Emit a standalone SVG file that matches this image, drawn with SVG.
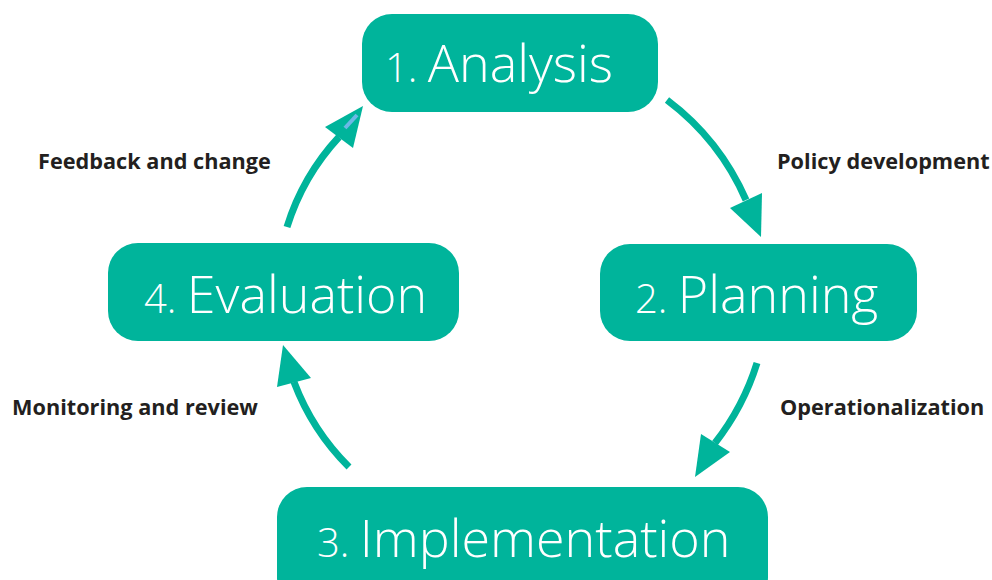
<svg xmlns="http://www.w3.org/2000/svg" width="992" height="580" viewBox="0 0 992 580">
<style>
.box{fill:#00b49b}
.num{font-family:"Open Sans","Noto Sans",sans-serif;font-weight:300;font-size:40px;fill:#fff}
.big{font-family:"Open Sans","Noto Sans",sans-serif;font-weight:300;font-size:52px;fill:#fff}
.lbl{font-family:"Open Sans","Noto Sans",sans-serif;font-weight:bold;font-size:21.7px;fill:#231f20}
.arc{fill:none;stroke:#00b49b;stroke-width:7}
.head{fill:#00b49b}
</style>
<rect width="992" height="580" fill="#fff"/>
<g id="connectors">
<path class="arc" d="M667,100 A250,250 0 0 1 746,200"/>
<polygon class="head" points="730,208 762,193 761,237"/>
<path class="arc" d="M757,363 A250,250 0 0 1 715,443"/>
<polygon class="head" points="701,434 730,452 695,477"/>
<path class="arc" d="M349,467 A238,238 0 0 1 294,382"/>
<polygon class="head" points="277,387 311,378 283,345"/>
<path class="arc" d="M287,227 A235,235 0 0 1 339,137"/>
<polygon class="head" points="325,127 353,148 363,106"/>
<line x1="345" y1="128" x2="357" y2="115" stroke="#6cb8e6" stroke-width="4"/>
<text class="lbl" x="38" y="169">Feedback and change</text>
<text class="lbl" x="777" y="169">Policy development</text>
<text class="lbl" x="12" y="415">Monitoring and review</text>
<text class="lbl" x="780" y="415">Operationalization</text>
</g>
<g id="analysis">
<rect class="box" x="362" y="14" width="296" height="98" rx="30"/>
<text x="385" y="82"><tspan class="num">1. </tspan><tspan class="big">Analysis</tspan></text>
</g>
<g id="planning">
<rect class="box" x="600" y="244" width="317" height="97" rx="30"/>
<text x="635" y="313"><tspan class="num">2. </tspan><tspan class="big">Planning</tspan></text>
</g>
<g id="evaluation">
<rect class="box" x="108" y="243" width="351" height="98" rx="30"/>
<text x="144" y="313"><tspan class="num">4. </tspan><tspan class="big">Evaluation</tspan></text>
</g>
<g id="implementation">
<rect class="box" x="277" y="487" width="491" height="120" rx="30"/>
<text x="317" y="557"><tspan class="num">3. </tspan><tspan class="big">Implementation</tspan></text>
</g>
</svg>
